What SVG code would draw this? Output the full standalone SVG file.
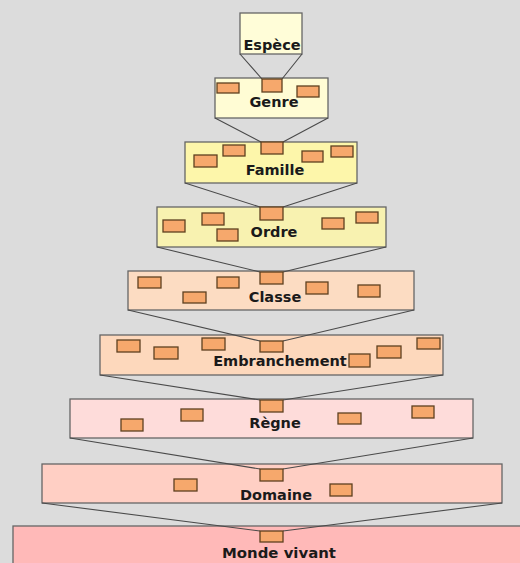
<svg xmlns="http://www.w3.org/2000/svg" width="520" height="563" viewBox="0 0 520 563">
<style>
.box{stroke:#666;stroke-width:1.3}
.sq{fill:#f6a86c;stroke:#5e4020;stroke-width:1.3}
.lbl{font-family:"DejaVu Sans",Verdana,sans-serif;font-weight:bold;font-size:14.5px;fill:#1a1a1a;text-anchor:middle}
.cn{stroke:#4a4a4a;stroke-width:1.1;fill:none}
</style>
<rect x="0" y="0" width="520" height="563" fill="#dcdcdc"/>
<g id="espece">
<rect class="box" x="240" y="13" width="62" height="41" fill="#fffdd8"/>
<text class="lbl" x="272" y="50">Espèce</text>
</g>
<g id="genre">
<rect class="box" x="215" y="78" width="113" height="40" fill="#fffcd4"/>
<rect class="sq" x="217" y="83" width="22" height="10"/>
<rect class="sq" x="297" y="86" width="22" height="11"/>
<text class="lbl" x="274" y="107">Genre</text>
</g>
<g id="famille">
<rect class="box" x="185" y="142" width="172" height="41" fill="#fdf6aa"/>
<rect class="sq" x="194" y="155" width="23" height="12"/>
<rect class="sq" x="223" y="145" width="22" height="11"/>
<rect class="sq" x="302" y="151" width="21" height="11"/>
<rect class="sq" x="331" y="146" width="22" height="11"/>
<text class="lbl" x="275" y="175">Famille</text>
</g>
<g id="ordre">
<rect class="box" x="157" y="207" width="229" height="40" fill="#f8f2b0"/>
<rect class="sq" x="163" y="220" width="22" height="12"/>
<rect class="sq" x="202" y="213" width="22" height="12"/>
<rect class="sq" x="217" y="229" width="21" height="12"/>
<rect class="sq" x="322" y="218" width="22" height="11"/>
<rect class="sq" x="356" y="212" width="22" height="11"/>
<text class="lbl" x="274" y="237">Ordre</text>
</g>
<g id="classe">
<rect class="box" x="128" y="271" width="286" height="39" fill="#fcdcc2"/>
<rect class="sq" x="138" y="277" width="23" height="11"/>
<rect class="sq" x="183" y="292" width="23" height="11"/>
<rect class="sq" x="217" y="277" width="22" height="11"/>
<rect class="sq" x="306" y="282" width="22" height="12"/>
<rect class="sq" x="358" y="285" width="22" height="12"/>
<text class="lbl" x="275" y="302">Classe</text>
</g>
<g id="embranchement">
<rect class="box" x="100" y="335" width="343" height="40" fill="#fdd8bc"/>
<rect class="sq" x="117" y="340" width="23" height="12"/>
<rect class="sq" x="154" y="347" width="24" height="12"/>
<rect class="sq" x="202" y="338" width="23" height="12"/>
<rect class="sq" x="349" y="354" width="21" height="13"/>
<rect class="sq" x="377" y="346" width="24" height="12"/>
<rect class="sq" x="417" y="338" width="23" height="11"/>
<text class="lbl" x="280" y="366">Embranchement</text>
</g>
<g id="regne">
<rect class="box" x="70" y="399" width="403" height="39" fill="#fedcda"/>
<rect class="sq" x="121" y="419" width="22" height="12"/>
<rect class="sq" x="181" y="409" width="22" height="12"/>
<rect class="sq" x="338" y="413" width="23" height="11"/>
<rect class="sq" x="412" y="406" width="22" height="12"/>
<text class="lbl" x="275" y="428">Règne</text>
</g>
<g id="domaine">
<rect class="box" x="42" y="464" width="460" height="39" fill="#ffcfc4"/>
<rect class="sq" x="174" y="479" width="23" height="12"/>
<rect class="sq" x="330" y="484" width="22" height="12"/>
<text class="lbl" x="276" y="500">Domaine</text>
</g>
<g id="monde-vivant">
<rect class="box" x="13" y="526" width="510" height="45" fill="#ffb9b8"/>
<text class="lbl" x="279" y="558" textLength="114" lengthAdjust="spacingAndGlyphs">Monde vivant</text>
</g>
<g id="connectors">
<path class="cn" d="M240,54 L262,79 M302,54 L282,79"/>
<path class="cn" d="M215,118 L261,142 M328,118 L283,142"/>
<path class="cn" d="M185,183 L260,207 M357,183 L283,207"/>
<path class="cn" d="M157,247 L260,272 M386,247 L283,272"/>
<path class="cn" d="M128,310 L260,341 M414,310 L283,341"/>
<path class="cn" d="M100,375 L260,400 M443,375 L283,400"/>
<path class="cn" d="M70,438 L260,469 M473,438 L283,469"/>
<path class="cn" d="M42,503 L260,531 M502,503 L283,531"/>
</g>
<g id="links">
<rect class="sq" x="262" y="79" width="20" height="13"/>
<rect class="sq" x="261" y="142" width="22" height="12"/>
<rect class="sq" x="260" y="207" width="23" height="13"/>
<rect class="sq" x="260" y="272" width="23" height="12"/>
<rect class="sq" x="260" y="341" width="23" height="11"/>
<rect class="sq" x="260" y="400" width="23" height="12"/>
<rect class="sq" x="260" y="469" width="23" height="12"/>
<rect class="sq" x="260" y="531" width="23" height="11"/>
</g>
</svg>
